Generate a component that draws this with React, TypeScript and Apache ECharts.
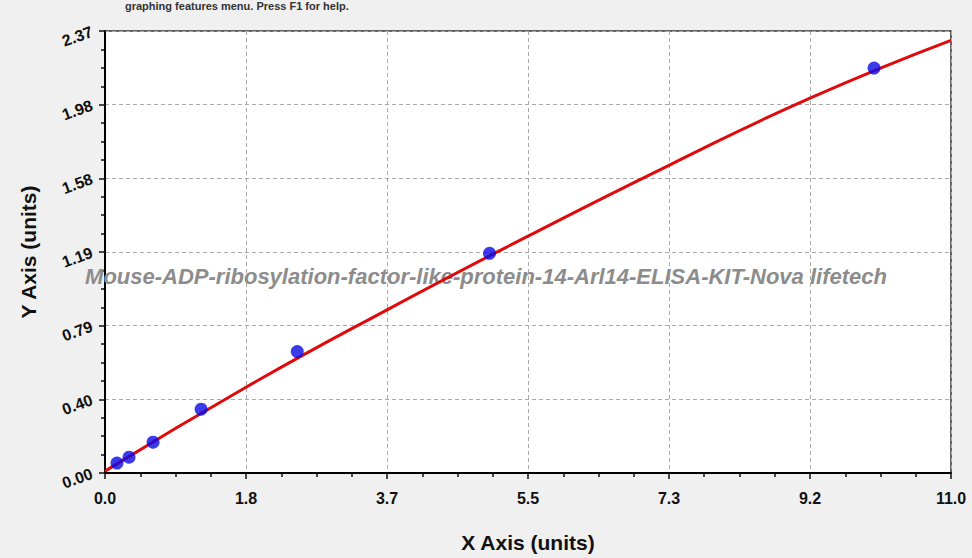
import { useEffect, useRef } from 'react';
import * as echarts from 'echarts';

// standard points (concentration, OD)
const stdX = [0.156, 0.3125, 0.625, 1.25, 2.5, 5, 10];
const stdY = [0.053, 0.085, 0.165, 0.342, 0.651, 1.178, 2.171];

// fitted curve
const fitX = [0, 1.833, 3.667, 5.5, 7.333, 9.167, 11];
const fitY = [0.01, 0.46, 0.875, 1.27, 1.65, 2.01, 2.32];

const xTickLabels = ['0.0', '1.8', '3.7', '5.5', '7.3', '9.2', '11.0'];
const yTickLabels = ['0.00', '0.40', '0.79', '1.19', '1.58', '1.98', '2.37'];

const X_MAX = 11;
const Y_MAX = 2.37;
const WATERMARK = 'Mouse-ADP-ribosylation-factor-like-protein-14-Arl14-ELISA-KIT-Nova lifetech';

export default function App() {
  const ref = useRef<HTMLDivElement>(null);

  useEffect(() => {
    document.body.style.margin = '0';
    if (!ref.current) return;
    const chart = echarts.init(ref.current, null, { renderer: 'svg' });
    const xStep = X_MAX / 6;
    const yStep = Y_MAX / 6;
    const font = '"Liberation Sans", Arial, sans-serif';
    const tickStyle = { color: '#111', width: 1.5 };

    chart.setOption({
      animation: false,
      backgroundColor: '#f0f0f0',
      grid: {
        left: 105,
        right: 21,
        top: 31,
        bottom: 83,
        show: true,
        backgroundColor: '#ffffff',
        borderColor: '#333',
        borderWidth: 1.5,
      },
      xAxis: {
        type: 'value',
        min: 0,
        max: X_MAX,
        interval: xStep,
        name: 'X Axis (units)',
        nameLocation: 'middle',
        nameGap: 59,
        nameTextStyle: { fontSize: 21, fontWeight: 'bold', color: '#111', fontFamily: font },
        axisLine: { lineStyle: { color: '#000', width: 2 } },
        axisTick: { length: 6, lineStyle: tickStyle },
        minorTick: { show: true, splitNumber: 4, length: 4, lineStyle: tickStyle },
        splitLine: { lineStyle: { color: '#aaa', type: [4, 3], width: 1 } },
        axisLabel: {
          margin: 17,
          fontSize: 16,
          fontWeight: 'bold',
          color: '#111',
          fontFamily: font,
          formatter: (v: number) => xTickLabels[Math.round(v / xStep)] ?? '',
        },
      },
      yAxis: {
        type: 'value',
        min: 0,
        max: Y_MAX,
        interval: yStep,
        name: 'Y Axis (units)',
        nameLocation: 'middle',
        nameGap: 66,
        nameTextStyle: { fontSize: 21, fontWeight: 'bold', color: '#111', fontFamily: font },
        axisLine: { show: true, lineStyle: { color: '#000', width: 2 } },
        axisTick: { show: true, length: 6, lineStyle: tickStyle },
        minorTick: { show: true, splitNumber: 4, length: 4, lineStyle: tickStyle },
        splitLine: { lineStyle: { color: '#aaa', type: [4, 3], width: 1 } },
        axisLabel: {
          margin: 13,
          rotate: 20,
          fontSize: 16,
          fontWeight: 'bold',
          color: '#111',
          fontFamily: font,
          formatter: (v: number) => yTickLabels[Math.round(v / yStep)] ?? '',
        },
      },
      graphic: [
        {
          type: 'text',
          left: 125,
          top: 0,
          style: {
            text: 'graphing features menu. Press F1 for help.',
            font: `bold 11px ${font}`,
            fill: '#333',
          },
        },
        {
          type: 'text',
          x: 486,
          y: 276,
          z: 1,
          style: {
            text: WATERMARK,
            font: `italic bold 22px ${font}`,
            fill: '#8c8c8c',
            align: 'center',
            verticalAlign: 'middle',
          },
        },
      ],
      series: [
        {
          type: 'line',
          data: fitX.map((x, i) => [x, fitY[i]]),
          smooth: true,
          showSymbol: false,
          lineStyle: { color: '#e00a0a', width: 3 },
          z: 3,
        },
        {
          type: 'scatter',
          data: stdX.map((x, i) => [x, stdY[i]]),
          symbolSize: 13,
          itemStyle: { color: '#0a0ae6' },
          z: 4,
        },
      ],
    });

    return () => chart.dispose();
  }, []);

  return <div ref={ref} style={{ width: 972, height: 558 }} />;
}
